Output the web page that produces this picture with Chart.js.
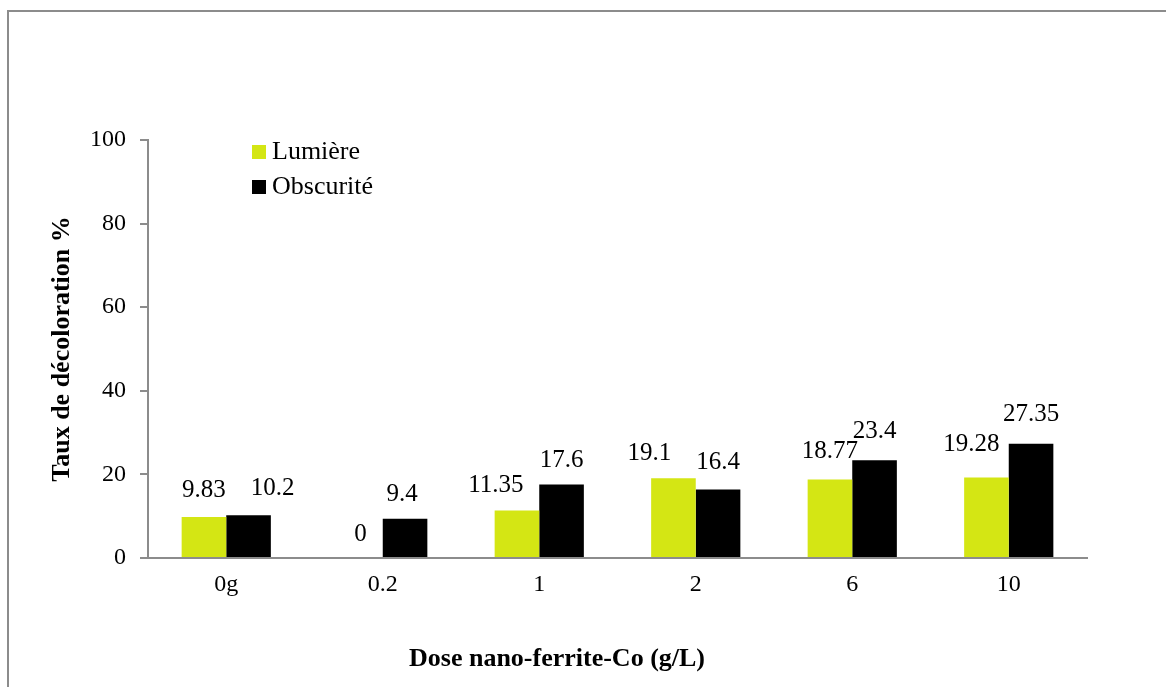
<!DOCTYPE html>
<html>
<head>
<meta charset="utf-8">
<script src="https://cdn.jsdelivr.net/npm/chart.js@4.4.1/dist/chart.umd.min.js"></script>
<style>
  html, body { margin: 0; padding: 0; background: #fff; }
  #wrap { position: relative; width: 1166px; height: 687px; overflow: hidden; }
  #frame { position: absolute; left: 7px; top: 10px; width: 1200px; height: 700px;
           border-left: 2px solid #8c8c8c; border-top: 2px solid #8c8c8c; }
  #chart { position: absolute; left: 0; top: 0; }
</style>
</head>
<body>
<div id="wrap">
  <div id="frame"></div>
  <canvas id="chart" width="1166" height="687"></canvas>
</div>
<script>
const categories = ["0g", "0.2", "1", "2", "6", "10"];
const lumiere = [9.83, 0, 11.35, 19.1, 18.77, 19.28];
const obscurite = [10.2, 9.4, 17.6, 16.4, 23.4, 27.35];
const yTicks = [0, 20, 40, 60, 80, 100];
const xTitle = "Dose nano-ferrite-Co (g/L)";
const yTitle = "Taux de décoloration %";

// the original's data labels were nudged by hand: offset from the bar top, px
const labelDx = [[0, 0, -21, -24, 0, -15], [24, -3, 0, 0, 0, 0]];
const labelDy = [[-26, -24, -25, -25, -28, -33], [-27, -24, -24, -27, -29, -29]];

const SERIF = "'Liberation Serif', 'Times New Roman', serif";
const AXIS_GRAY = "#8c8c8c";

const barLabels = {
  id: "barLabels",
  afterDatasetsDraw(chart) {
    const ctx = chart.ctx;
    ctx.save();
    ctx.font = "25px " + SERIF;
    ctx.fillStyle = "#000";
    ctx.textAlign = "center";
    ctx.textBaseline = "middle";
    chart.data.datasets.forEach((ds, i) => {
      chart.getDatasetMeta(i).data.forEach((bar, j) => {
        ctx.fillText(String(ds.data[j]), bar.x + labelDx[i][j], bar.y + labelDy[i][j]);
      });
    });
    ctx.restore();
  },
};

// legend inside the plot (top-left) and the x title, which sits a bit left of centre
const extras = {
  id: "extras",
  afterDraw(chart) {
    const ctx = chart.ctx;
    const area = chart.chartArea;
    ctx.save();
    ctx.font = "26px " + SERIF;
    ctx.textBaseline = "middle";
    ctx.textAlign = "left";
    const x = area.left + 104;
    let y = area.top + 12;
    chart.data.datasets.forEach((ds) => {
      ctx.fillStyle = ds.backgroundColor;
      ctx.fillRect(x, y - 7, 14, 14);
      ctx.fillStyle = "#000";
      ctx.fillText(ds.label, x + 20, y);
      y += 35;
    });

    ctx.font = "bold 26px " + SERIF;
    ctx.textAlign = "center";
    ctx.fillText(xTitle, area.left + 409, 659);
    ctx.restore();
  },
};

new Chart(document.getElementById("chart"), {
  type: "bar",
  data: {
    labels: categories,
    datasets: [
      { label: "Lumière", data: lumiere, backgroundColor: "#d4e614",
        categoryPercentage: 0.57, barPercentage: 1.0 },
      { label: "Obscurité", data: obscurite, backgroundColor: "#000000",
        categoryPercentage: 0.57, barPercentage: 1.0 },
    ],
  },
  options: {
    responsive: false,
    animation: false,
    layout: { padding: { left: 47, top: 140, right: 79, bottom: 0 } },
    plugins: {
      legend: { display: false },
      tooltip: { enabled: false },
    },
    scales: {
      x: {
        grid: { display: false, drawTicks: false },
        border: { color: AXIS_GRAY, width: 2 },
        ticks: { color: "#000", padding: 12, font: { family: SERIF, size: 24 } },
        afterFit(scale) { scale.height = 687 - 558; },
      },
      y: {
        min: 0,
        max: 100,
        afterBuildTicks(scale) { scale.ticks = yTicks.map((v) => ({ value: v })); },
        grid: { drawOnChartArea: false, tickLength: 8, color: AXIS_GRAY, lineWidth: 2 },
        border: { color: AXIS_GRAY, width: 2 },
        ticks: { color: "#000", padding: 14, font: { family: SERIF, size: 24 } },
        title: {
          display: true,
          text: yTitle,
          color: "#000",
          font: { family: SERIF, size: 26, weight: "bold" },
          padding: { top: 0, bottom: 0 },
        },
        afterFit(scale) { scale.width = 148 - 47; },
      },
    },
  },
  plugins: [barLabels, extras],
});
</script>
</body>
</html>
